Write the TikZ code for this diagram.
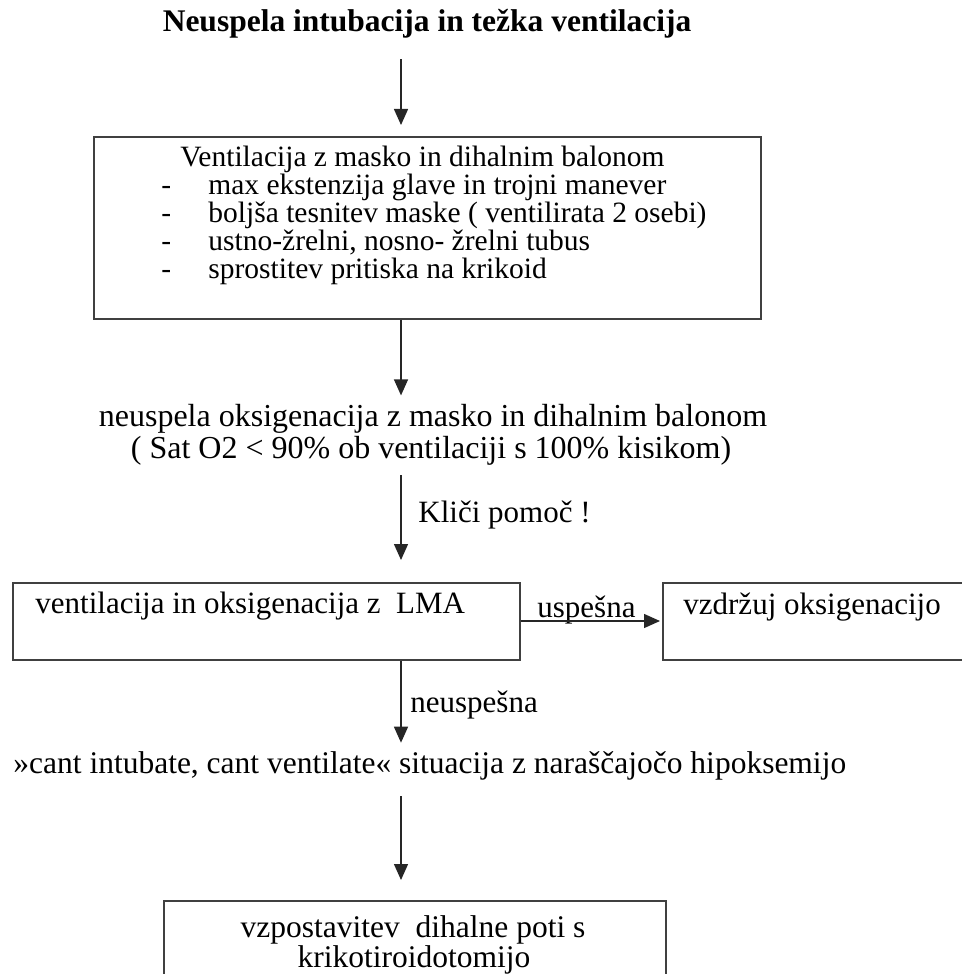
\documentclass[tikz,border=0pt]{standalone}
\usepackage{fontspec}
\setmainfont{Liberation Serif}
\usetikzlibrary{arrows.meta, positioning}

\tikzset{
  box/.style={draw=black!75, line width=0.8pt, rectangle, inner sep=0pt, anchor=north west},
  txt/.style={inner sep=0pt, anchor=base west, font=\fontsize{15.5}{17}\selectfont},
  flow/.style={-{Triangle[length=8pt, width=7pt]}, line width=0.7pt, black!85}
}

\begin{document}
\begin{tikzpicture}[x=0.5pt, y=-0.5pt]
  \useasboundingbox (0,0) rectangle (962,974);
  \clip (0,0) rectangle (962,974);
  \coordinate (axis) at (401,0);

  % Title
  \node[txt, anchor=base, font=\fontsize{15.75}{17}\selectfont\bfseries] (title) at (427,32)
    {Neuspela intubacija in težka ventilacija};

  % Mask ventilation box
  \node[box, minimum width=333.5pt, minimum height=91pt] (mask) at (93,136) {};
  \node[txt, font=\fontsize{14.75}{17}\selectfont] (maskhead) at (180,166) {Ventilacija z masko in dihalnim balonom};
  \foreach \y/\t [count=\i] in {194/{max ekstenzija glave in trojni manever},
      222/{boljša tesnitev maske ( ventilirata 2 osebi)},
      250/{ustno-žrelni, nosno- žrelni tubus},
      278/{sprostitev pritiska na krikoid}} {
    \node[txt, font=\fontsize{14.75}{17}\selectfont] (dash\i) at (161,\y) {-};
    \node[txt, font=\fontsize{14.75}{17}\selectfont] (item\i) at (208,\y) {\t};
  }

  % Failed oxygenation
  \node[txt, anchor=base, font=\fontsize{16}{17}\selectfont] (fail) at (433,426) {neuspela oksigenacija z masko in dihalnim balonom};
  \node[txt, anchor=base, font=\fontsize{16}{17}\selectfont] (sat) at (431,458) {( Sat O2 < 90\% ob ventilaciji s 100\% kisikom)};
  \node[txt] (help) at (418,522) {Kliči pomoč !};

  % LMA
  \node[box, minimum width=253.5pt, minimum height=38.5pt] (lma) at (12,582) {};
  \node[txt] (lmatext) at (35,613) {ventilacija in oksigenacija z \ LMA};
  \node[box, minimum width=160pt, minimum height=38.5pt] (keep) at (662,582) {};
  \node[txt] (keeptext) at (683,614) {vzdržuj oksigenacijo};
  \node[txt] (ok) at (537,617) {uspešna};
  \node[txt] (notok) at (410,712) {neuspešna};

  % Cant intubate, cant ventilate
  \node[txt, font=\fontsize{15.75}{17}\selectfont] (cicv) at (13,773) {»cant intubate, cant ventilate« situacija z naraščajočo hipoksemijo};

  % Cricothyroidotomy
  \node[box, minimum width=251pt, minimum height=60pt] (crico) at (163,900) {};
  \node[txt, anchor=base, font=\fontsize{15.75}{17}\selectfont] (crico1) at (413,937) {vzpostavitev \ dihalne poti s};
  \node[txt, anchor=base, font=\fontsize{15.75}{17}\selectfont] (crico2) at (414,967) {krikotiroidotomijo};

  % Connectors
  \draw[flow, shorten <=10pt, shorten >=5.5pt] (title.south -| axis) -- (mask.north -| axis);
  \draw[flow, shorten >=4pt] (mask.south -| axis) -- (fail.north -| axis);
  \draw[flow, shorten <=5pt, shorten >=11pt] (sat.south -| axis) -- (lma.north -| axis);
  \draw[flow, shorten >=4pt] (lma.south -| axis) -- (cicv.north -| axis);
  \draw[flow, shorten <=8pt, shorten >=10pt] (cicv.south -| axis) -- (crico.north -| axis);
  \draw[flow, shorten >=1pt] (lma.east |- 0,621) -- (keep.west |- 0,621);
\end{tikzpicture}
\end{document}
